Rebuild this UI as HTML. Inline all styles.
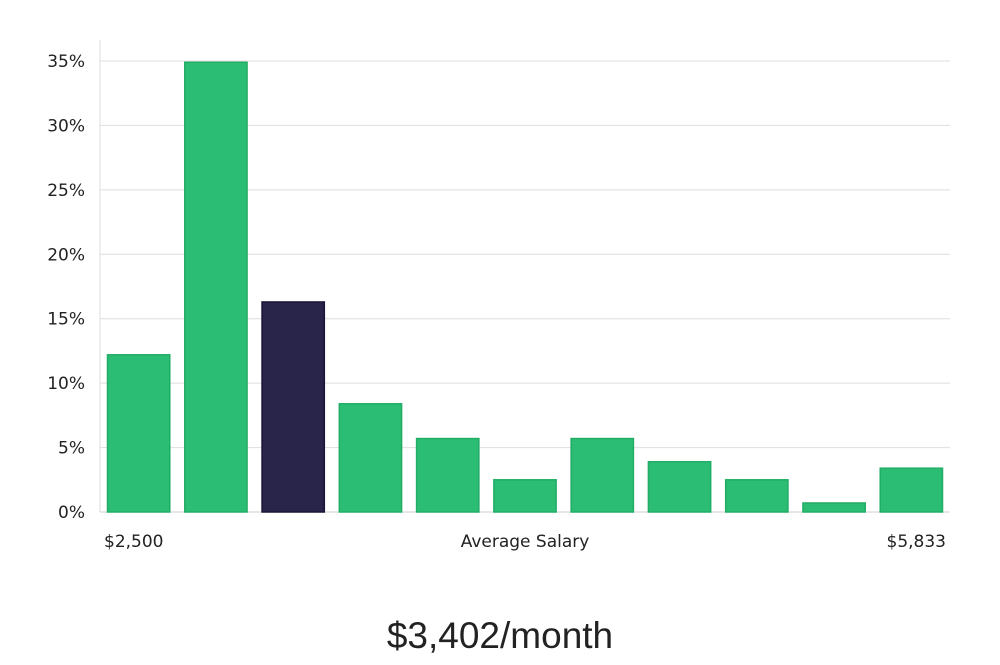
<!DOCTYPE html>
<html><head><meta charset="utf-8"><style>
body{margin:0;background:#fff;width:1000px;height:660px;overflow:hidden}
svg text{font-family:"DejaVu Sans","Liberation Sans",sans-serif}
</style></head><body>
<svg id="chart" width="1000" height="660" xmlns="http://www.w3.org/2000/svg">
<g id="grid"></g>
<g id="bars"></g>
<g id="yticks"></g>
<text x="104" y="547" font-size="17" fill="#222">$2,500</text>
<text x="525" y="547" font-size="17" fill="#222" text-anchor="middle">Average Salary</text>
<text x="946" y="547" font-size="17" fill="#222" text-anchor="end">$5,833</text>
<text x="500" y="648" font-size="37" fill="#222" text-anchor="middle" style="font-family:'Liberation Sans',sans-serif;font-weight:300">$3,402/month</text>
</svg>
<script>
const categories=["b1","b2","b3","b4","b5","b6","b7","b8","b9","b10","b11"];
const values=[12.2,34.9,16.3,8.4,5.7,2.5,5.7,3.9,2.5,0.7,3.4];
const highlight=[false,false,true,false,false,false,false,false,false,false,false];
const yTicks=[0,5,10,15,20,25,30,35];
const NS="http://www.w3.org/2000/svg";
const left=100,right=950,y0=512,yTop=61,maxV=35;
const y=v=>y0-(v/maxV)*(y0-yTop);
const band=(right-left)/categories.length;
const x=i=>left+i*band;
const grid=document.getElementById('grid'),yt=document.getElementById('yticks'),bars=document.getElementById('bars');
yTicks.forEach(t=>{
 const l=document.createElementNS(NS,'line');
 
 
 l.setAttribute('x1',left);l.setAttribute('x2',right);l.setAttribute('y1',y(t));l.setAttribute('y2',y(t));
 l.setAttribute('stroke',t===0?'#cfcfcf':'#dedede');l.setAttribute('stroke-width','1');
 grid.appendChild(l);
 const tx=document.createElementNS(NS,'text');
 
 
 tx.setAttribute('x',85);tx.setAttribute('y',y(t)+6);tx.setAttribute('text-anchor','end');
 tx.setAttribute('font-size','17');tx.setAttribute('fill','#222');tx.textContent=t+'%';
 yt.appendChild(tx);
});
const ax=document.createElementNS(NS,'line');


ax.setAttribute('x1',left);ax.setAttribute('x2',left);ax.setAttribute('y1',40);ax.setAttribute('y2',y0);
ax.setAttribute('stroke','#dedede');
grid.appendChild(ax);
values.forEach((v,i)=>{
 const r=document.createElementNS(NS,'rect');
 
 
 r.setAttribute('x',x(i)+7.5);r.setAttribute('width',band-15);
 r.setAttribute('y',y(v));r.setAttribute('height',y0-y(v));
 r.setAttribute('fill',highlight[i]?'#29244a':'#2bbd73');
 r.setAttribute('stroke',highlight[i]?'#1a1535':'#22ad66');r.setAttribute('stroke-width','1.5');
 bars.appendChild(r);
});
</script>
</body></html>
